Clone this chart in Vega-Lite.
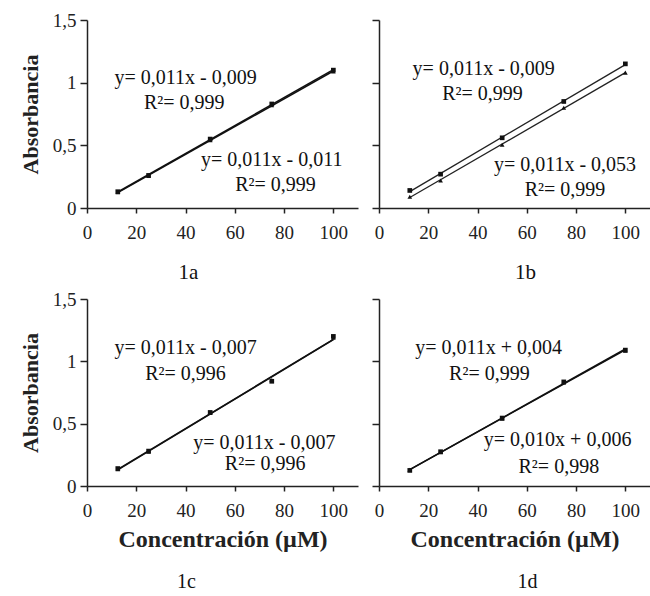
{
  "$schema": "https://vega.github.io/schema/vega-lite/v6.json",
  "background": "white",
  "padding": {"left": 19, "top": 11, "right": 0, "bottom": 0},
  "datasets": {
    "pts": [
      {"panel": "1a", "series": "A", "x": 12.5, "y": 0.13},
      {"panel": "1a", "series": "A", "x": 25, "y": 0.26},
      {"panel": "1a", "series": "A", "x": 50, "y": 0.55},
      {"panel": "1a", "series": "A", "x": 75, "y": 0.83},
      {"panel": "1a", "series": "A", "x": 100, "y": 1.1},
      {"panel": "1a", "series": "B", "x": 12.5, "y": 0.125},
      {"panel": "1a", "series": "B", "x": 25, "y": 0.255},
      {"panel": "1a", "series": "B", "x": 50, "y": 0.54},
      {"panel": "1a", "series": "B", "x": 75, "y": 0.82},
      {"panel": "1a", "series": "B", "x": 100, "y": 1.09},
      {"panel": "1b", "series": "A", "x": 12.5, "y": 0.14},
      {"panel": "1b", "series": "A", "x": 25, "y": 0.27},
      {"panel": "1b", "series": "A", "x": 50, "y": 0.56},
      {"panel": "1b", "series": "A", "x": 75, "y": 0.85},
      {"panel": "1b", "series": "A", "x": 100, "y": 1.15},
      {"panel": "1b", "series": "B", "x": 12.5, "y": 0.09},
      {"panel": "1b", "series": "B", "x": 25, "y": 0.22},
      {"panel": "1b", "series": "B", "x": 50, "y": 0.505},
      {"panel": "1b", "series": "B", "x": 75, "y": 0.8},
      {"panel": "1b", "series": "B", "x": 100, "y": 1.08},
      {"panel": "1c", "series": "A", "x": 12.5, "y": 0.14},
      {"panel": "1c", "series": "A", "x": 25, "y": 0.28},
      {"panel": "1c", "series": "A", "x": 50, "y": 0.59},
      {"panel": "1c", "series": "A", "x": 75, "y": 0.84},
      {"panel": "1c", "series": "A", "x": 100, "y": 1.2},
      {"panel": "1c", "series": "B", "x": 12.5, "y": 0.135},
      {"panel": "1c", "series": "B", "x": 25, "y": 0.275},
      {"panel": "1c", "series": "B", "x": 50, "y": 0.585},
      {"panel": "1c", "series": "B", "x": 75, "y": 0.85},
      {"panel": "1c", "series": "B", "x": 100, "y": 1.19},
      {"panel": "1d", "series": "A", "x": 12.5, "y": 0.125},
      {"panel": "1d", "series": "A", "x": 25, "y": 0.275},
      {"panel": "1d", "series": "A", "x": 50, "y": 0.545},
      {"panel": "1d", "series": "A", "x": 75, "y": 0.835},
      {"panel": "1d", "series": "A", "x": 100, "y": 1.09},
      {"panel": "1d", "series": "B", "x": 12.5, "y": 0.13},
      {"panel": "1d", "series": "B", "x": 25, "y": 0.27},
      {"panel": "1d", "series": "B", "x": 50, "y": 0.54},
      {"panel": "1d", "series": "B", "x": 75, "y": 0.83},
      {"panel": "1d", "series": "B", "x": 100, "y": 1.085}
    ],
    "ann": [
      {"panel": "1a", "x": 40, "y": 1.04, "label": "y= 0,011x - 0,009"},
      {"panel": "1a", "x": 39.5, "y": 0.84, "label": "R²= 0,999"},
      {"panel": "1a", "x": 75, "y": 0.383, "label": "y= 0,011x - 0,011"},
      {"panel": "1a", "x": 76.5, "y": 0.18, "label": "R²= 0,999"},
      {"panel": "1b", "x": 42.5, "y": 1.107, "label": "y= 0,011x - 0,009"},
      {"panel": "1b", "x": 42, "y": 0.906, "label": "R²= 0,999"},
      {"panel": "1b", "x": 75.5, "y": 0.345, "label": "y= 0,011x - 0,053"},
      {"panel": "1b", "x": 75.5, "y": 0.144, "label": "R²= 0,999"},
      {"panel": "1c", "x": 40, "y": 1.107, "label": "y= 0,011x - 0,007"},
      {"panel": "1c", "x": 40, "y": 0.9, "label": "R²= 0,996"},
      {"panel": "1c", "x": 72, "y": 0.345, "label": "y= 0,011x - 0,007"},
      {"panel": "1c", "x": 72.3, "y": 0.176, "label": "R²= 0,996"},
      {"panel": "1d", "x": 44.5, "y": 1.107, "label": "y= 0,011x + 0,004"},
      {"panel": "1d", "x": 44.8, "y": 0.9, "label": "R²= 0,999"},
      {"panel": "1d", "x": 72.5, "y": 0.369, "label": "y= 0,010x + 0,006"},
      {"panel": "1d", "x": 73, "y": 0.152, "label": "R²= 0,998"}
    ]
  },
  "columns": 2,
  "spacing": {"row": 91, "column": 21},
  "bounds": "flush",
  "concat": [
    {
      "width": 271, "height": 188,
      "title": {"text": "1a", "orient": "bottom", "offset": 20, "dx": -34},
      "layer": [
        {"data": {"name": "pts"}, "transform": [{"filter": "datum.panel === '1a'"}, {"regression": "y", "on": "x", "groupby": ["series"], "extent": [12.5, 100]}],
         "mark": {"type": "line", "color": "#111", "strokeWidth": 1.5},
         "encoding": {"x": {"field": "x", "type": "quantitative"}, "y": {"field": "y", "type": "quantitative"}, "detail": {"field": "series"}}},
        {"data": {"name": "pts"}, "transform": [{"filter": "datum.panel === '1a'"}],
         "mark": {"type": "point", "filled": true, "color": "#111", "size": 22, "opacity": 1},
         "encoding": {
           "x": {"field": "x", "type": "quantitative", "scale": {"domain": [0, 110], "nice": false},
                 "axis": {"title": null, "values": [0, 20, 40, 60, 80, 100]}},
           "y": {"field": "y", "type": "quantitative", "scale": {"domain": [0, 1.5], "nice": false},
                 "axis": {"title": "Absorbancia", "values": [0, 0.5, 1, 1.5], "labelExpr": "replace(toString(datum.value), '.', ',')"}},
           "shape": {"field": "series", "type": "nominal", "scale": {"domain": ["A", "B"], "range": ["square", "triangle-up"]}, "legend": null}}},
        {"data": {"name": "ann"}, "transform": [{"filter": "datum.panel === '1a'"}],
         "mark": {"type": "text", "font": "Liberation Serif", "fontSize": 20, "color": "#111", "align": "center", "baseline": "middle"},
         "encoding": {"x": {"field": "x", "type": "quantitative"}, "y": {"field": "y", "type": "quantitative"}, "text": {"field": "label"}}}
      ]
    },
    {
      "width": 271, "height": 188,
      "title": {"text": "1b", "orient": "bottom", "offset": 20, "dx": 11},
      "layer": [
        {"data": {"name": "pts"}, "transform": [{"filter": "datum.panel === '1b'"}, {"regression": "y", "on": "x", "groupby": ["series"], "extent": [12.5, 100]}],
         "mark": {"type": "line", "color": "#222", "strokeWidth": 1.3},
         "encoding": {"x": {"field": "x", "type": "quantitative"}, "y": {"field": "y", "type": "quantitative"}, "detail": {"field": "series"}}},
        {"data": {"name": "pts"}, "transform": [{"filter": "datum.panel === '1b'"}],
         "mark": {"type": "point", "filled": true, "color": "#111", "size": 22, "opacity": 1},
         "encoding": {
           "x": {"field": "x", "type": "quantitative", "scale": {"domain": [0, 110], "nice": false},
                 "axis": {"title": null, "values": [0, 20, 40, 60, 80, 100]}},
           "y": {"field": "y", "type": "quantitative", "scale": {"domain": [0, 1.5], "nice": false},
                 "axis": {"title": null, "values": [0, 0.5, 1, 1.5], "labels": false}},
           "shape": {"field": "series", "type": "nominal", "scale": {"domain": ["A", "B"], "range": ["square", "triangle-up"]}, "legend": null}}},
        {"data": {"name": "ann"}, "transform": [{"filter": "datum.panel === '1b'"}],
         "mark": {"type": "text", "font": "Liberation Serif", "fontSize": 20, "color": "#111", "align": "center", "baseline": "middle"},
         "encoding": {"x": {"field": "x", "type": "quantitative"}, "y": {"field": "y", "type": "quantitative"}, "text": {"field": "label"}}}
      ]
    },
    {
      "width": 271, "height": 187,
      "title": {"text": "1c", "orient": "bottom", "offset": 21, "fontSize": 20, "dx": -36},
      "layer": [
        {"data": {"name": "pts"}, "transform": [{"filter": "datum.panel === '1c'"}, {"regression": "y", "on": "x", "groupby": ["series"], "extent": [12.5, 100]}],
         "mark": {"type": "line", "color": "#111", "strokeWidth": 1.5},
         "encoding": {"x": {"field": "x", "type": "quantitative"}, "y": {"field": "y", "type": "quantitative"}, "detail": {"field": "series"}}},
        {"data": {"name": "pts"}, "transform": [{"filter": "datum.panel === '1c'"}],
         "mark": {"type": "point", "filled": true, "color": "#111", "size": 22, "opacity": 1},
         "encoding": {
           "x": {"field": "x", "type": "quantitative", "scale": {"domain": [0, 110], "nice": false},
                 "axis": {"title": "Concentración (µM)", "values": [0, 20, 40, 60, 80, 100]}},
           "y": {"field": "y", "type": "quantitative", "scale": {"domain": [0, 1.5], "nice": false},
                 "axis": {"title": "Absorbancia", "values": [0, 0.5, 1, 1.5], "labelExpr": "replace(toString(datum.value), '.', ',')"}},
           "shape": {"field": "series", "type": "nominal", "scale": {"domain": ["A", "B"], "range": ["square", "triangle-up"]}, "legend": null}}},
        {"data": {"name": "ann"}, "transform": [{"filter": "datum.panel === '1c'"}],
         "mark": {"type": "text", "font": "Liberation Serif", "fontSize": 20, "color": "#111", "align": "center", "baseline": "middle"},
         "encoding": {"x": {"field": "x", "type": "quantitative"}, "y": {"field": "y", "type": "quantitative"}, "text": {"field": "label"}}}
      ]
    },
    {
      "width": 271, "height": 187,
      "title": {"text": "1d", "orient": "bottom", "offset": 21, "fontSize": 20, "dx": 13},
      "layer": [
        {"data": {"name": "pts"}, "transform": [{"filter": "datum.panel === '1d'"}, {"regression": "y", "on": "x", "groupby": ["series"], "extent": [12.5, 100]}],
         "mark": {"type": "line", "color": "#111", "strokeWidth": 1.5},
         "encoding": {"x": {"field": "x", "type": "quantitative"}, "y": {"field": "y", "type": "quantitative"}, "detail": {"field": "series"}}},
        {"data": {"name": "pts"}, "transform": [{"filter": "datum.panel === '1d'"}],
         "mark": {"type": "point", "filled": true, "color": "#111", "size": 22, "opacity": 1},
         "encoding": {
           "x": {"field": "x", "type": "quantitative", "scale": {"domain": [0, 110], "nice": false},
                 "axis": {"title": "Concentración (µM)", "values": [0, 20, 40, 60, 80, 100]}},
           "y": {"field": "y", "type": "quantitative", "scale": {"domain": [0, 1.5], "nice": false},
                 "axis": {"title": null, "values": [0, 0.5, 1, 1.5], "labels": false}},
           "shape": {"field": "series", "type": "nominal", "scale": {"domain": ["A", "B"], "range": ["square", "triangle-up"]}, "legend": null}}},
        {"data": {"name": "ann"}, "transform": [{"filter": "datum.panel === '1d'"}],
         "mark": {"type": "text", "font": "Liberation Serif", "fontSize": 20, "color": "#111", "align": "center", "baseline": "middle"},
         "encoding": {"x": {"field": "x", "type": "quantitative"}, "y": {"field": "y", "type": "quantitative"}, "text": {"field": "label"}}}
      ]
    }
  ],
  "config": {
    "view": {"stroke": null},
    "title": {"font": "Liberation Serif", "fontSize": 21, "fontWeight": "normal", "color": "#111", "anchor": "middle"},
    "axis": {
      "grid": false,
      "domainColor": "#222", "domainWidth": 1.5,
      "tickColor": "#222", "tickWidth": 1.5,
      "labelFont": "Liberation Serif", "labelFontSize": 19, "labelColor": "#222",
      "titleFont": "Liberation Serif", "titleFontSize": 22, "titleFontWeight": "bold", "titleColor": "#222"
    },
    "axisX": {"tickSize": 5, "labelPadding": 10, "titlePadding": 7, "labelFlush": false, "titleFontSize": 24},
    "axisY": {"tickSize": 7, "labelPadding": 4, "titlePadding": 10, "labelFlush": false}
  }
}
